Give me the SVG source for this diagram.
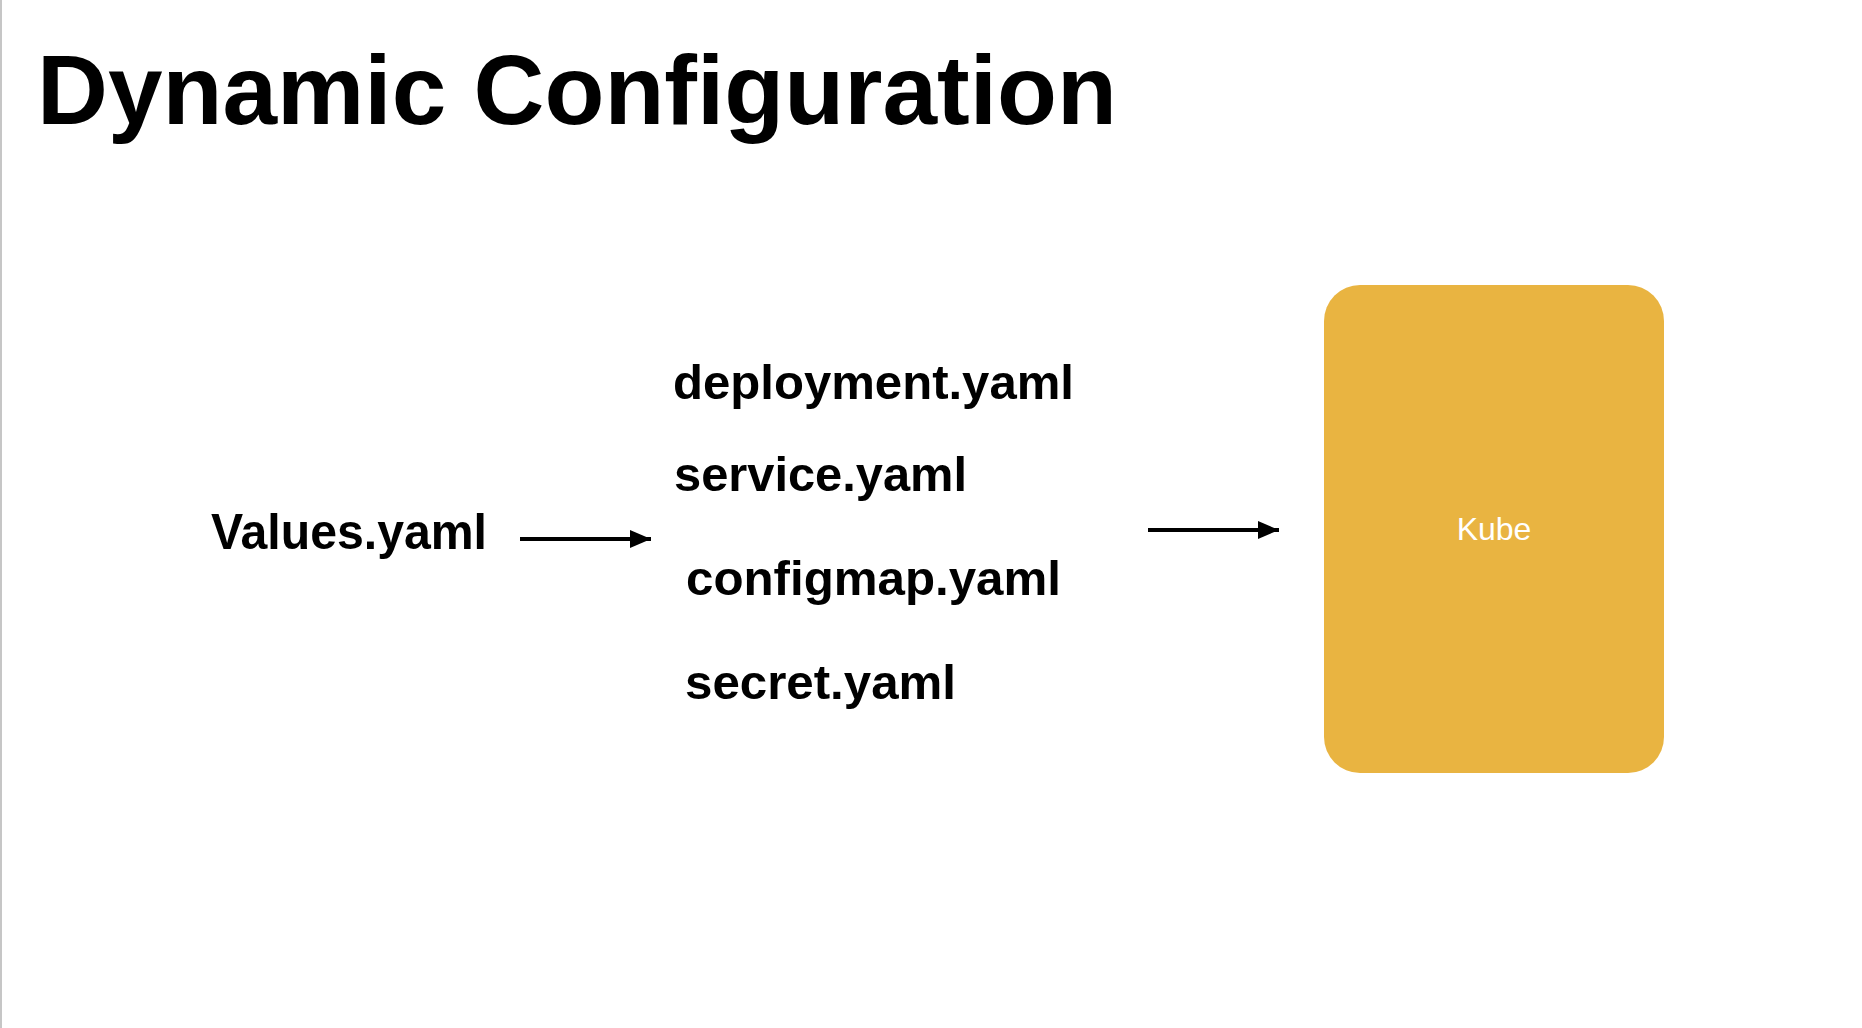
<svg xmlns="http://www.w3.org/2000/svg" width="1862" height="1028" viewBox="0 0 1862 1028">
<style>
.t{font-family:"Liberation Sans",Arial,Helvetica,sans-serif;font-weight:bold;fill:#000}
.f{font-size:48px}
.conn{stroke:#000;stroke-width:4;fill:none}
</style>
<defs>
<marker id="ah" markerUnits="userSpaceOnUse" markerWidth="22" markerHeight="20" refX="21" refY="9" orient="auto">
<path d="M0,0 L21,9 L0,18 z" fill="#000"/>
</marker>
</defs>
<rect x="0" y="0" width="1862" height="1028" fill="#fff"/>
<rect x="0" y="0" width="2" height="1028" fill="#c6c6c6"/>
<text id="title" class="t" x="37" y="124" font-size="99" textLength="1080" lengthAdjust="spacingAndGlyphs">Dynamic Configuration</text>
<g id="values"><text class="t" x="211" y="549" font-size="50" textLength="276" lengthAdjust="spacingAndGlyphs">Values.yaml</text></g>
<g id="deployment"><text class="t f" x="673" y="399" textLength="401" lengthAdjust="spacingAndGlyphs">deployment.yaml</text></g>
<g id="service"><text class="t f" x="674" y="491" textLength="293" lengthAdjust="spacingAndGlyphs">service.yaml</text></g>
<g id="configmap"><text class="t f" x="686" y="595" textLength="375" lengthAdjust="spacingAndGlyphs">configmap.yaml</text></g>
<g id="secret"><text class="t f" x="685" y="699" textLength="271" lengthAdjust="spacingAndGlyphs">secret.yaml</text></g>
<g id="kube">
<rect x="1324" y="285" width="340" height="488" rx="36" ry="36" fill="#E9B441"/>
<text x="1494" y="540" text-anchor="middle" font-family="Liberation Sans,Arial,sans-serif" font-size="32" fill="#fff">Kube</text>
</g>
<g id="connectors">
<line class="conn" x1="520" y1="539" x2="651" y2="539" marker-end="url(#ah)"/>
<line class="conn" x1="1148" y1="530" x2="1279" y2="530" marker-end="url(#ah)"/>
</g>
</svg>
